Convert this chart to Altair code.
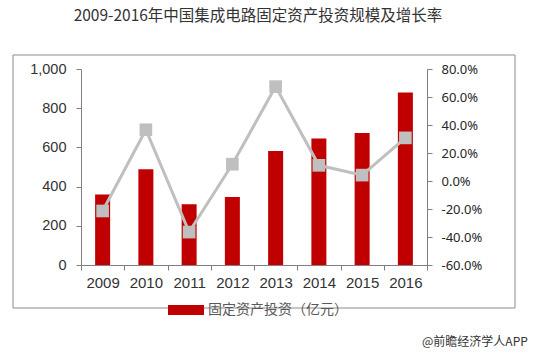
import altair as alt
import pandas as pd

years = ["2009", "2010", "2011", "2012", "2013", "2014", "2015", "2016"]
investment = [360, 488, 310, 347, 581, 646, 673, 880]
growth = [-21.4, 36.6, -36.5, 12.0, 67.4, 11.2, 4.2, 30.8]
series_name = "固定资产投资（亿元）"
title_text = "2009-2016年中国集成电路固定资产投资规模及增长率"
source_text = "@前瞻经济学人APP"
left_ticks = [0, 200, 400, 600, 800, 1000]
right_ticks = [-60, -40, -20, 0, 20, 40, 60, 80]

df = pd.DataFrame({"year": years, "inv": investment, "growth": growth, "series": series_name})
one = pd.DataFrame({"a": [0]})

x_enc = alt.X("year:N", sort=years, title=None,
              scale=alt.Scale(paddingInner=0, paddingOuter=0),
              axis=alt.Axis(labelAngle=0, tickBand="extent", tickSize=5,
                            labelPadding=5, labelFont="Liberation Sans",
                            labelFontSize=15, labelColor="#333333"))

frame = alt.Chart(one).mark_rect(fill=None, stroke="#8c8c8c", strokeWidth=1).encode(
    x=alt.value(-68), x2=alt.value(434), y=alt.value(-14), y2=alt.value(239))

bars = alt.Chart(df).mark_bar(size=15).encode(
    x=x_enc,
    y=alt.Y("inv:Q", title=None, scale=alt.Scale(domain=[0, 1000]),
            axis=alt.Axis(values=left_ticks, format=",d", tickSize=5, labelPadding=10,
                          labelFont="Liberation Sans", labelFontSize=14.5,
                          labelColor="#333333")),
    color=alt.Color("series:N", title=None,
                    scale=alt.Scale(domain=[series_name], range=["#C00000"]),
                    legend=alt.Legend(orient="none", legendX=87, legendY=223,
                                      symbolType="M-1,-0.28H1V0.28H-1Z",
                                      symbolSize=1296, symbolStrokeWidth=0,
                                      labelFont="Noto Sans CJK SC", labelFontSize=14,
                                      labelColor="#595959", labelOffset=4, padding=0)),
)

y_right = alt.Y("growth:Q", title=None, scale=alt.Scale(domain=[-60, 80]),
                axis=alt.Axis(orient="right", values=right_ticks, tickSize=5,
                              labelPadding=9, labelFont="Noto Sans", labelFontSize=13,
                              labelColor="#262626",
                              labelExpr="datum.value < 0 ? '-' + format(-datum.value, '.1f') + '%' : format(datum.value, '.1f') + '%'"))

line = alt.Chart(df).mark_line(color="#BFBFBF", strokeWidth=3).encode(x=alt.X("year:N", sort=years), y=y_right)
pts = alt.Chart(df).mark_point(shape="square", filled=True, size=160, color="#BFBFBF", opacity=1).encode(
    x=alt.X("year:N", sort=years), y=y_right)
line_layer = alt.layer(line, pts)

source = alt.Chart(one).mark_text(text=source_text, align="left", baseline="middle",
                                  font="Noto Sans CJK SC", fontSize=12, color="#333333").encode(
    x=alt.value(341), y=alt.value(273))

chart = alt.layer(frame, bars, line_layer, source).resolve_scale(y="independent").properties(
    width=346, height=196,
    autosize=alt.AutoSizeParams(type="none"),
    padding={"left": 81, "top": 69, "right": 109, "bottom": 87},
    title=alt.TitleParams(title_text, font="Noto Sans CJK SC", fontSize=15.5, fontWeight="normal",
                          color="#333333", anchor="middle", dx=4, offset=30),
).configure_view(stroke=None).configure_axis(
    grid=False, domainColor="#808080", tickColor="#808080")

chart.save("out.html", embed_options={"renderer": "svg", "actions": False})
